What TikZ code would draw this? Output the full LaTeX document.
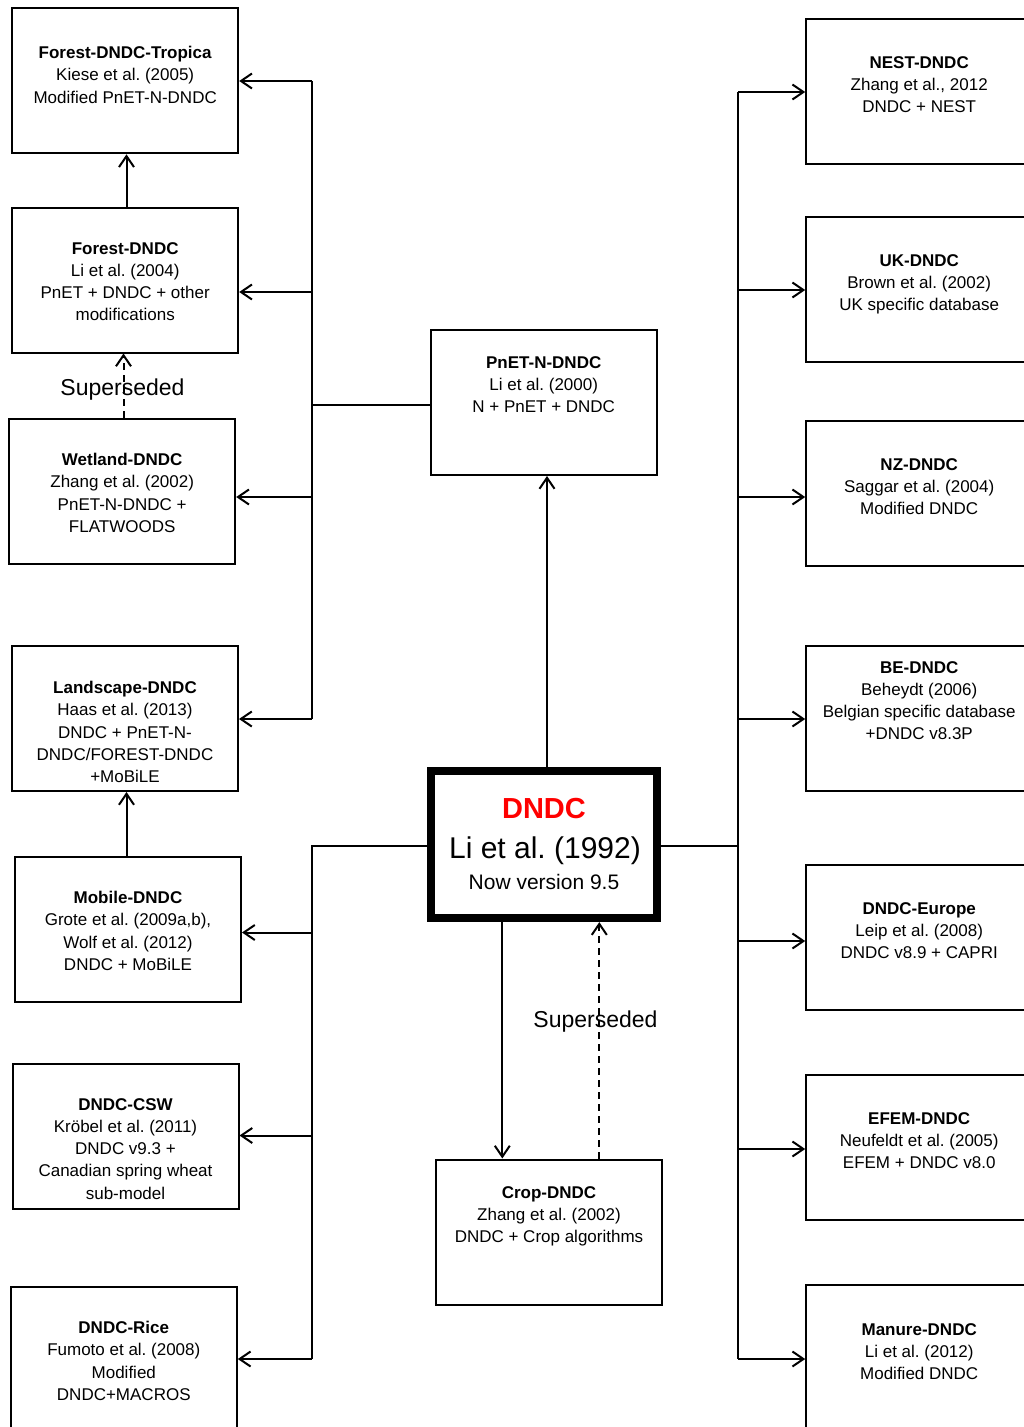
\documentclass[tikz,border=0pt]{standalone}
\usepackage{fontspec}
\setmainfont{Liberation Sans}
\usetikzlibrary{arrows.meta}
\frenchspacing
\begin{document}
\begin{tikzpicture}[x=1pt,y=-1pt,
  box/.style={draw, line width=2pt, inner sep=0pt, minimum width=226pt, minimum height=145pt},
  txt/.style={anchor=north, inner sep=0pt, align=center, font=\fontsize{17}{22.3}\selectfont, execute at begin node={\rule{0pt}{13pt}}},
  conn/.style={line width=2pt},
  arr/.style={line width=2pt, -{Straight Barb[length=11pt,width=15pt]}},
  sup/.style={line width=2pt, dash pattern=on 7pt off 5pt, -{Straight Barb[length=11pt,width=15pt]}},
  suplabel/.style={anchor=base, inner sep=0pt, font=\fontsize{23}{26}\selectfont}]
\useasboundingbox (0,0) rectangle (1024,1427);
\clip (0,0) rectangle (1024,1427);
\fill[white] (0,0) rectangle (1024,1427);

% left column
\node[box] (tropica) at (125.2,80.8) {};
\node[txt] (tropicaT) at (125.2,46) {\textbf{Forest-DNDC-Tropica}\\Kiese et al. (2005)\\Modified PnET-N-DNDC};
\node[box] (forest) at (125.2,280) {};
\node[txt] (forestT) at (125.2,242) {\textbf{Forest-DNDC}\\Li et al. (2004)\\PnET + DNDC + other\\modifications};
\node[box] (wetland) at (122.2,491.2) {};
\node[txt] (wetlandT) at (122.2,453) {\textbf{Wetland-DNDC}\\Zhang et al. (2002)\\PnET-N-DNDC +\\FLATWOODS};
\node[box] (landscape) at (125,718.5) {};
\node[txt] (landscapeT) at (125,681) {\textbf{Landscape-DNDC}\\Haas et al. (2013)\\DNDC + PnET-N-\\DNDC/FOREST-DNDC\\+MoBiLE};
\node[box] (mobile) at (128,929.2) {};
\node[txt] (mobileT) at (128,891) {\textbf{Mobile-DNDC}\\Grote et al. (2009a,b),\\Wolf et al. (2012)\\DNDC + MoBiLE};
\node[box] (csw) at (125.5,1136.2) {};
\node[txt] (cswT) at (125.5,1098) {\textbf{DNDC-CSW}\\Kröbel et al. (2011)\\DNDC v9.3 +\\Canadian spring wheat\\sub-model};
\node[box] (rice) at (123.8,1359.2) {};
\node[txt] (riceT) at (123.8,1321) {\textbf{DNDC-Rice}\\Fumoto et al. (2008)\\Modified\\DNDC+MACROS};

% centre column
\node[box] (pnet) at (543.7,402.5) {};
\node[txt] (pnetT) at (543.7,356) {\textbf{PnET-N-DNDC}\\Li et al. (2000)\\N + PnET + DNDC};
\node[draw, line width=7.7pt, inner sep=0pt, minimum width=225.4pt, minimum height=147.5pt] (dndc) at (544,844.5) {};
\node[anchor=base, inner sep=0pt, font=\fontsize{29}{32}\selectfont\bfseries, text=red] (dndcA) at (544,818) {DNDC};
\node[anchor=base, inner sep=0pt, font=\fontsize{30}{33}\selectfont] (dndcB) at (545,858.5) {Li et al. (1992)};
\node[anchor=base, inner sep=0pt, font=\fontsize{21}{24}\selectfont] (dndcC) at (544,889) {Now version 9.5};
\node[box] (crop) at (549,1232) {};
\node[txt] (cropT) at (549,1186) {\textbf{Crop-DNDC}\\Zhang et al. (2002)\\DNDC + Crop algorithms};

% right column
\node[box] (nest) at (919.2,91) {};
\node[txt] (nestT) at (919.2,56) {\textbf{NEST-DNDC}\\Zhang et al., 2012\\DNDC + NEST};
\node[box] (uk) at (919.2,289.2) {};
\node[txt] (ukT) at (919.2,254) {\textbf{UK-DNDC}\\Brown et al. (2002)\\UK specific database};
\node[box] (nz) at (919.2,493.5) {};
\node[txt] (nzT) at (919.2,458) {\textbf{NZ-DNDC}\\Saggar et al. (2004)\\Modified DNDC};
\node[box] (be) at (919.2,718.5) {};
\node[txt] (beT) at (919.2,661) {\textbf{BE-DNDC}\\Beheydt (2006)\\Belgian specific database\\+DNDC v8.3P};
\node[box] (europe) at (919.2,937.5) {};
\node[txt] (europeT) at (919.2,902) {\textbf{DNDC-Europe}\\Leip et al. (2008)\\DNDC v8.9 + CAPRI};
\node[box] (efem) at (919.2,1147.5) {};
\node[txt] (efemT) at (919.2,1112) {\textbf{EFEM-DNDC}\\Neufeldt et al. (2005)\\EFEM + DNDC v8.0};
\node[box] (manure) at (919.2,1357.5) {};
\node[txt] (manureT) at (919.2,1323) {\textbf{Manure-DNDC}\\Li et al. (2012)\\Modified DNDC};

% bus coordinates
\coordinate (lA) at (312,81);
\coordinate (lB) at (312,292);
\coordinate (lP) at (312,405.3);
\coordinate (lC) at (312,497);
\coordinate (lD) at (312,719);
\coordinate (lE) at (312,846);
\coordinate (lF) at (312,932.5);
\coordinate (lG) at (312,1135.5);
\coordinate (lH) at (312,1359);
\coordinate (rA) at (738,92);
\coordinate (rB) at (738,290);
\coordinate (rC) at (738,497);
\coordinate (rD) at (738,719);
\coordinate (rE) at (738,846);
\coordinate (rF) at (738,941);
\coordinate (rG) at (738,1149);
\coordinate (rH) at (738,1359);
\coordinate (xf) at (126.5,0);
\coordinate (xs) at (123.5,0);
\coordinate (xp) at (547,0);
\coordinate (xc) at (502.3,0);
\coordinate (xd) at (599.3,0);

% left buses
\draw[conn] (lA) -- (lD);
\draw[conn] (pnet.west |- lP) -- (lP);
\draw[conn] (dndc.west |- lE) -- (lE) -- (lH);
\foreach \c/\b in {lA/tropica, lB/forest, lC/wetland, lD/landscape, lF/mobile, lG/csw, lH/rice}
  \draw[arr] (\c) -- (\b.east |- \c);

% right bus
\draw[conn] (dndc.east |- rE) -- (rE);
\draw[conn] (rA) -- (rH);
\foreach \c/\b in {rA/nest, rB/uk, rC/nz, rD/be, rF/europe, rG/efem, rH/manure}
  \draw[arr] (\c) -- (\b.west |- \c);

% vertical arrows
\draw[arr] (forest.north -| xf) -- (tropica.south -| xf);
\draw[arr] (mobile.north -| xf) -- (landscape.south -| xf);
\draw[sup] (wetland.north -| xs) -- (forest.south -| xs);
\draw[arr] (dndc.north -| xp) -- (pnet.south -| xp);
\draw[arr] (dndc.south -| xc) -- (crop.north -| xc);
\draw[sup] (crop.north -| xd) -- (dndc.south -| xd);

\node[suplabel] (sup1) at (122.5,395) {Superseded};
\node[suplabel] (sup2) at (595.5,1027) {Superseded};
\end{tikzpicture}
\end{document}
